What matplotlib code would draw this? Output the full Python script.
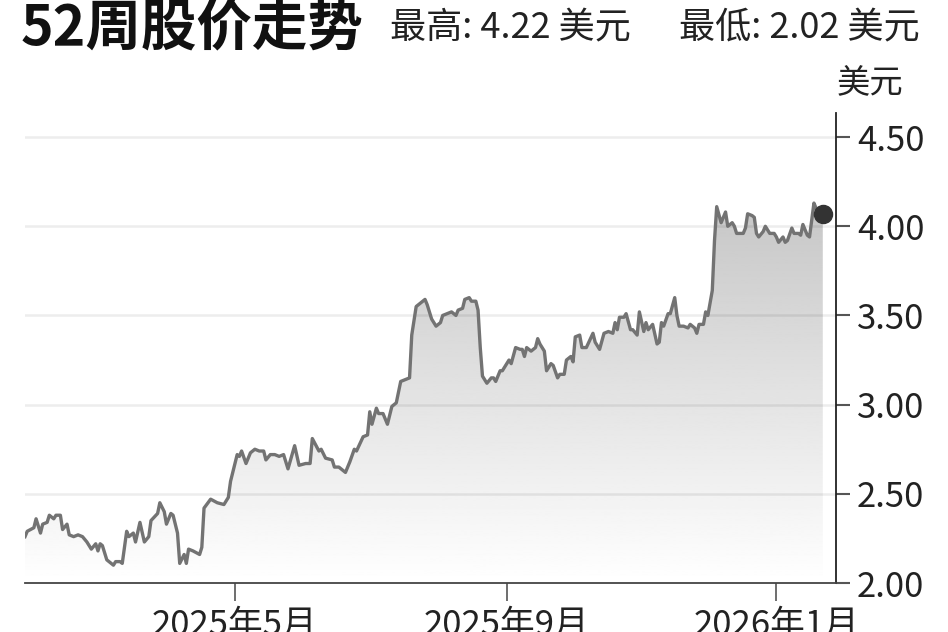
import numpy as np
import pandas as pd
import matplotlib.pyplot as plt
import matplotlib.dates as mdates

plt.rcParams['font.family'] = ['Noto Sans CJK SC', 'DejaVu Sans']

# 交易日 (从 2025-01-01 起算的天数) 与收盘价 (美元)
day_offsets = [
    25, 26, 29, 30, 32, 33, 35, 36, 38, 39, 41, 42, 44, 45, 47, 49, 51, 53, 55, 57,
    58, 59, 60, 62, 65, 66, 68, 69, 71, 72, 74, 75, 77, 79, 81, 82, 85, 86, 88, 89,
    91, 92, 94, 95, 97, 98, 99, 101, 104, 105, 106, 109, 112, 115, 117, 118,
    121, 122, 123, 125, 127, 129, 131, 133, 134, 136, 138, 140, 142, 144, 147, 149,
    152, 154, 155, 158, 159, 161, 164, 165, 167, 170, 172, 174, 175, 178, 180, 181,
    182, 184, 185, 187, 189, 191, 193, 195, 197, 199, 200, 202, 203, 206, 207, 209, 211,
    213, 214, 216, 218, 220, 221, 223, 224, 226, 227, 229, 230, 231, 232, 234, 236,
    237, 238, 240, 241, 244, 245, 247, 249, 250, 251, 252, 254, 256, 257, 258, 260,
    261, 263, 264, 266, 267, 269, 270, 272, 273, 274, 276, 277, 279, 282, 283, 285,
    287, 289, 291, 292, 293, 294, 296, 297, 299, 300, 302, 303,
    305, 306, 307, 309, 311, 312, 313, 314, 316, 317, 319, 320, 321, 323, 325, 326,
    328, 329, 330, 332, 333, 334, 336, 337, 338, 340, 342, 343, 345, 346, 347, 350,
    351, 352, 354, 355, 356, 357, 359, 360, 362, 364, 365, 366, 368, 369, 370, 372,
    373, 375, 376, 377, 379, 380, 382, 383, 385, 386,
]
prices = [
    2.26, 2.29, 2.31, 2.36, 2.28, 2.33, 2.34, 2.38, 2.36, 2.38, 2.38, 2.30, 2.33, 2.27, 2.26, 2.27, 2.26, 2.23, 2.19, 2.22,
    2.18, 2.22, 2.21, 2.13, 2.10, 2.12, 2.12, 2.11, 2.29, 2.26, 2.28, 2.23, 2.34, 2.23, 2.26, 2.35, 2.39, 2.45, 2.40, 2.33,
    2.39, 2.38, 2.28, 2.11, 2.16, 2.11, 2.19, 2.18, 2.16, 2.20, 2.42, 2.47, 2.45, 2.44, 2.48, 2.57,
    2.72, 2.71, 2.74, 2.67, 2.73, 2.75, 2.74, 2.74, 2.69, 2.72, 2.72, 2.71, 2.72, 2.64, 2.77, 2.66,
    2.67, 2.67, 2.81, 2.74, 2.75, 2.70, 2.69, 2.65, 2.65, 2.62, 2.68, 2.75, 2.74, 2.82, 2.83, 2.96,
    2.89, 2.98, 2.95, 2.95, 2.89, 2.99, 3.01, 3.13, 3.14, 3.15, 3.39, 3.55, 3.56, 3.59, 3.56, 3.48, 3.44,
    3.46, 3.50, 3.51, 3.52, 3.50, 3.53, 3.54, 3.59, 3.60, 3.58, 3.58, 3.53, 3.32, 3.16, 3.12, 3.15,
    3.15, 3.13, 3.19, 3.19, 3.25, 3.23, 3.32, 3.31, 3.31, 3.27, 3.32, 3.30, 3.32, 3.37, 3.34, 3.30,
    3.19, 3.23, 3.22, 3.15, 3.17, 3.17, 3.25, 3.27, 3.24, 3.38, 3.39, 3.32, 3.32, 3.40, 3.35, 3.31,
    3.40, 3.41, 3.40, 3.46, 3.42, 3.49, 3.49, 3.51, 3.42, 3.42, 3.39, 3.52,
    3.41, 3.46, 3.42, 3.45, 3.34, 3.35, 3.46, 3.44, 3.51, 3.51, 3.60, 3.50, 3.44, 3.44, 3.43, 3.45,
    3.43, 3.40, 3.45, 3.45, 3.52, 3.50, 3.64, 3.92, 4.11, 4.02, 4.08, 4.00, 4.02, 4.00, 3.96, 3.96,
    3.99, 4.07, 4.06, 4.05, 3.96, 3.94, 3.97, 4.00, 3.96, 3.96, 3.94, 3.91, 3.94, 3.91, 3.92, 3.99,
    3.96, 3.96, 3.95, 4.01, 3.95, 3.94, 4.13, 4.10, 4.07, 4.07,
]

tick_dates = ["2025-05-01", "2025-09-01", "2026-01-01"]
tick_labels = ["2025年5月", "2025年9月", "2026年1月"]
y_ticks = [2.0, 2.5, 3.0, 3.5, 4.0, 4.5]

dates = pd.Timestamp("2025-01-01") + pd.to_timedelta(day_offsets, unit="D")
x_num = mdates.date2num(dates)

fig = plt.figure(figsize=(9.48, 6.32), dpi=100)
ax = fig.add_axes([0.0264, 0.0775, 0.8555, 0.7437])

# 渐变填充
poly = ax.fill_between(dates, prices, 2.0, color='none', lw=0)
grad = np.linspace(1.0, 0.77, 256).reshape(-1, 1)
im = ax.imshow(grad, extent=[x_num[0], x_num[-1], 2.0, 4.2], aspect='auto',
               cmap='gray', vmin=0, vmax=1, origin='lower', zorder=1)
im.set_clip_path(poly.get_paths()[0], transform=ax.transData)

for y in y_ticks[1:]:
    ax.axhline(y, color='black', alpha=0.07, lw=1.8, zorder=2)

ax.plot(dates, prices, color='#737373', lw=2.4, zorder=3)
ax.plot(dates[-1], prices[-1], 'o', ms=13, color='#333333', zorder=4)

ax.set_xlim(x_num[0], mdates.date2num(pd.Timestamp("2026-01-28")))
ax.set_ylim(2.0, 4.635)

ax.set_xticks(mdates.date2num(pd.to_datetime(tick_dates)))
ax.set_xticklabels(tick_labels)
ax.yaxis.tick_right()
ax.set_yticks(y_ticks)
ax.set_yticklabels([f"{v:.2f}" for v in y_ticks])

ax.tick_params(axis='x', length=13, width=1.2, color='#555555', labelsize=25, pad=5, labelcolor='#222222')
ax.tick_params(axis='y', length=10, width=1.5, color='#555555', labelsize=25, pad=5, labelcolor='#222222')

for s in ['left', 'top']:
    ax.spines[s].set_visible(False)
ax.spines['bottom'].set_color('#444444')
ax.spines['bottom'].set_linewidth(1.3)
ax.spines['right'].set_color('#222222')
ax.spines['right'].set_linewidth(1.3)

fig.text(0.918, 0.867, "美元", ha='center', va='center', fontsize=24, color='#222222')
fig.text(0.022, 0.955, "52周股价走势", ha='left', va='center', fontsize=40,
         fontweight='black', color='#111111')
fig.text(0.411, 0.955, "最高: 4.22 美元", ha='left', va='center', fontsize=26, color='#222222')
fig.text(0.716, 0.955, "最低: 2.02 美元", ha='left', va='center', fontsize=26, color='#222222')

fig.savefig("out.png", dpi=100)
